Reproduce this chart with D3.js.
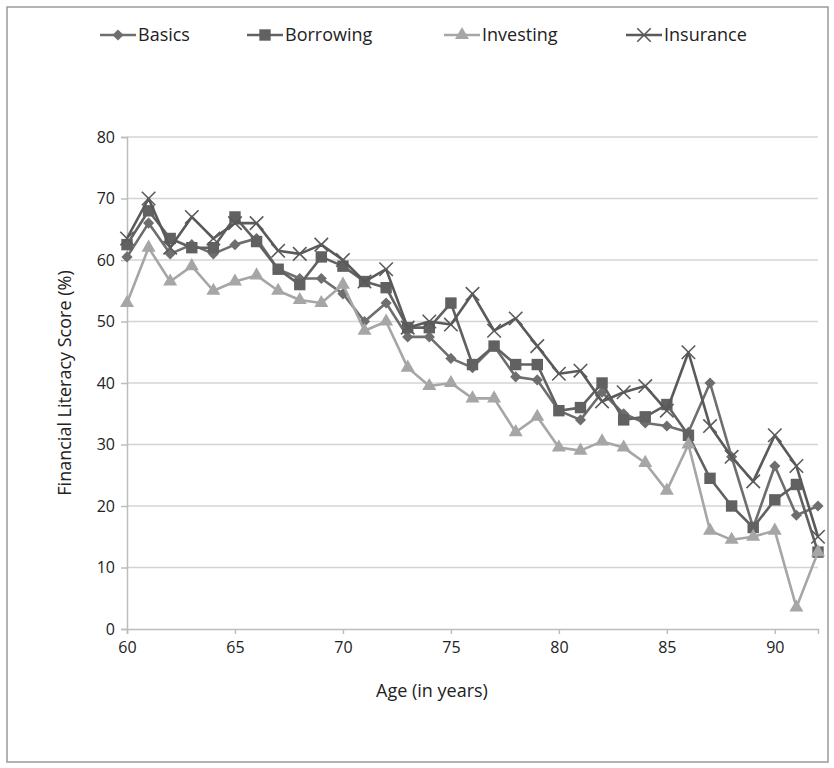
<!DOCTYPE html>
<html>
<head>
<meta charset="utf-8">
<script src="https://cdn.jsdelivr.net/npm/d3@7"></script>
<style>
  body { margin: 0; background: #fff; }
  text { font-family: "Open Sans", sans-serif; fill: #222; }
</style>
</head>
<body>
<svg id="chart" width="834" height="768"></svg>
<script>
// ages 60..92, one point per year
const ages = d3.range(60, 93);

const basics = [60.5, 66, 61, 62.5, 61, 62.5, 63.5, 58.5, 57, 57, 54.5, 50, 53, 47.5, 47.5, 44, 42.5,
    46, 41, 40.5, 35.5, 34, 38.5, 35, 33.5, 33, 32, 40, 28, 16.5, 26.5, 18.5, 20];
const borrowing = [62.5, 68, 63.5, 62, 62, 67, 63, 58.5, 56, 60.5, 59, 56.5, 55.5, 49, 49, 53, 43,
    46, 43, 43, 35.5, 36, 40, 34, 34.5, 36.5, 31.5, 24.5, 20, 16.5, 21, 23.5, 12.5];
const investing = [53, 62, 56.5, 59, 55, 56.5, 57.5, 55, 53.5, 53, 56, 48.5, 50, 42.5, 39.5, 40, 37.5,
    37.5, 32, 34.5, 29.5, 29, 30.5, 29.5, 27, 22.5, 30, 16, 14.5, 15, 16, 3.5, 12.5];
const insurance = [63.5, 70, 62, 67, 63.5, 66, 66, 61.5, 61, 62.5, 60, 56.5, 58.5, 49, 50, 49.5, 54.5,
    48.5, 50.5, 46, 41.5, 42, 37, 38.5, 39.5, 35.5, 45, 33, 28, 24, 31.5, 26.5, 15];

const seriesNames = ['Basics', 'Borrowing', 'Investing', 'Insurance'];
const xTicks = [60, 65, 70, 75, 80, 85, 90];
const yTicks = [0, 10, 20, 30, 40, 50, 60, 70, 80];

// diamond = square turned 45 degrees
const series = [
    { name: seriesNames[0], values: basics, color: '#6e6e6e', symbol: d3.symbolSquare, size: 62, rot: 45 },
    { name: seriesNames[1], values: borrowing, color: '#616161', symbol: d3.symbolSquare, size: 130, rot: 0 },
    { name: seriesNames[2], values: investing, color: '#a6a6a6', symbol: d3.symbolTriangle, size: 85, rot: 0 },
    { name: seriesNames[3], values: insurance, color: '#5a5a5a', symbol: d3.symbolX, size: 120, rot: 0 }
];

const svg = d3.select('#chart');

// outer frame
svg.append('rect')
    .attr('x', 7).attr('y', 7).attr('width', 821).attr('height', 755)
    .attr('fill', 'none').attr('stroke', '#9a9a9a').attr('stroke-width', 1.5);

const x = d3.scaleLinear().domain([60, 92]).range([127, 818]);
const y = d3.scaleLinear().domain([0, 80]).range([629, 137]);

// gridlines
svg.append('g')
    .selectAll('line')
    .data(yTicks.slice(1))
    .join('line')
    .attr('x1', x(60)).attr('x2', x(92))
    .attr('y1', d => y(d)).attr('y2', d => y(d))
    .attr('stroke', '#d4d4d4').attr('stroke-width', 1.5);

const yAxis = svg.append('g')
    .attr('transform', `translate(${x(60)},0)`)
    .call(d3.axisLeft(y).tickValues(yTicks).tickSize(6).tickPadding(6));

const xAxis = svg.append('g')
    .attr('transform', `translate(0,${y(0)})`)
    .call(d3.axisBottom(x).tickValues(xTicks).tickSize(5).tickPadding(8));

[yAxis, xAxis].forEach(ax => {
    ax.select('.domain').attr('stroke', '#bdbdbd').attr('stroke-width', 1.5);
    ax.selectAll('.tick line').attr('stroke', '#bdbdbd').attr('stroke-width', 1.5);
    ax.selectAll('.tick text').attr('font-size', 16).attr('fill', '#222')
        .style('font-family', '"Open Sans", sans-serif');
});

svg.append('text')
    .attr('transform', 'translate(71,383) rotate(-90)')
    .attr('text-anchor', 'middle')
    .attr('font-size', 18)
    .text('Financial Literacy Score (%)');

svg.append('text')
    .attr('x', 432).attr('y', 697)
    .attr('text-anchor', 'middle')
    .attr('font-size', 18)
    .text('Age (in years)');

const line = d3.line()
    .x((d, i) => x(ages[i]))
    .y(d => y(d));

const markPath = s => d3.symbol().type(s.symbol).size(s.size)();

series.forEach(s => {
    const g = svg.append('g');
    g.append('path')
        .attr('d', line(s.values))
        .attr('fill', 'none')
        .attr('stroke', s.color)
        .attr('stroke-width', 2.6)
        .attr('stroke-linejoin', 'round');

    g.selectAll('path.mark')
        .data(s.values)
        .join('path')
        .attr('class', 'mark')
        .attr('transform', (d, i) => `translate(${x(ages[i])},${y(d)}) rotate(${s.rot})`)
        .attr('d', markPath(s))
        .attr('fill', s.symbol === d3.symbolX ? 'none' : s.color)
        .attr('stroke', s.color)
        .attr('stroke-width', s.symbol === d3.symbolX ? 1.6 : 0);
});

// legend
const legendX = [100, 247, 444, 626];
const legend = svg.append('g');
series.forEach((s, i) => {
    const g = legend.append('g').attr('transform', `translate(${legendX[i]},35)`);
    g.append('line')
        .attr('x1', 0).attr('x2', 36)
        .attr('stroke', s.color).attr('stroke-width', 2.6);
    g.append('path')
        .attr('transform', `translate(18,0) rotate(${s.rot})`)
        .attr('d', markPath(s))
        .attr('fill', s.symbol === d3.symbolX ? 'none' : s.color)
        .attr('stroke', s.color)
        .attr('stroke-width', s.symbol === d3.symbolX ? 1.6 : 0);
    g.append('text')
        .attr('x', 38).attr('y', 0)
        .attr('dy', '0.35em')
        .attr('font-size', 18)
        .text(s.name);
});
</script>
</body>
</html>
